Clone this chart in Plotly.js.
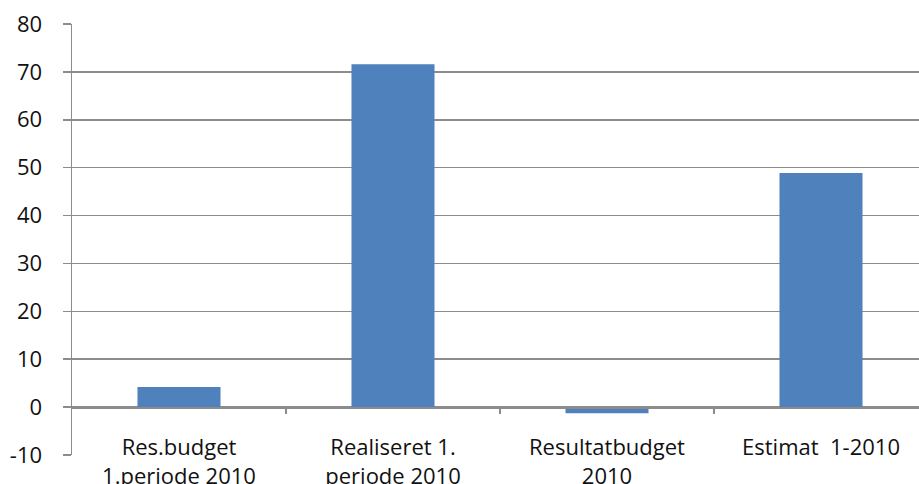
<!DOCTYPE html>
<html>
<head>
<meta charset="utf-8">
<script src="https://cdn.plot.ly/plotly-3.0.1.min.js"></script>
<style>
html,body{margin:0;padding:0;overflow:hidden;background:#fff;width:919px;height:484px;}
#chart{width:928px;height:484px;}
</style>
</head>
<body>
<div id="chart"></div>
<script>
const categories = ["Res.budget\n1.periode 2010", "Realiseret 1.\nperiode 2010", "Resultatbudget\n2010", "Estimat\u00a0 1-2010"];
const values = [4.2, 71.6, -1.3, 48.9];
const yTicks = [-10, 0, 10, 20, 30, 40, 50, 60, 70, 80];

const W = 928, H = 484;
const mL = 72, mR = 0, mT = 23.5, mB = 29;
const zeroPos = (0 - (-10)) / (80 - (-10));
const FONT = '"Open Sans", sans-serif';

const trace = {
  type: 'bar',
  x: categories.map((c, i) => i),
  y: values,
  marker: {color: '#4f81bd', line: {width: 0}},
  hoverinfo: 'none'
};

const layout = {
  width: W, height: H,
  margin: {l: mL, r: mR, t: mT, b: mB, pad: 0},
  paper_bgcolor: '#fff', plot_bgcolor: '#fff',
  showlegend: false,
  bargap: 0.612,
  font: {family: FONT, size: 22, color: '#111'},
  xaxis: {
    type: 'linear',
    range: [-0.5, categories.length - 0.5],
    tickvals: categories.map((c, i) => i),
    ticktext: categories.map(c => c.replace('\n', '<br>')),
    anchor: 'free',
    position: zeroPos,
    showline: true, linecolor: '#8c8c8c', linewidth: 1.5,
    showgrid: false, zeroline: false,
    ticks: '',
    ticklabelstandoff: 20,
    tickfont: {family: FONT, size: 22, color: '#111'},
    fixedrange: true
  },
  xaxis2: {
    overlaying: 'x',
    range: [-0.5, categories.length - 0.5],
    tickvals: [0.5, 1.5, 2.5],
    ticktext: ['', '', ''],
    anchor: 'free', position: zeroPos,
    showline: false, showgrid: false, zeroline: false,
    ticks: 'outside', ticklen: 6, tickwidth: 1.5, tickcolor: '#8c8c8c'
  },
  yaxis: {
    range: [-10, 80],
    tickvals: yTicks,
    ticktext: yTicks.map(String),
    showline: true, linecolor: '#8c8c8c', linewidth: 1.5,
    showgrid: true, gridcolor: '#8c8c8c', gridwidth: 1.5,
    zeroline: false,
    ticks: 'outside', ticklen: 8, tickwidth: 1.5, tickcolor: '#8c8c8c',
    ticklabelstandoff: 16,
    tickfont: {family: FONT, size: 22, color: '#111'},
    fixedrange: true
  }
};

const tickTrace = {type: 'scatter', x: [0], y: [0], xaxis: 'x2', mode: 'markers', marker: {opacity: 0}, hoverinfo: 'none'};

Plotly.newPlot('chart', [trace, tickTrace], layout, {staticPlot: true, displayModeBar: false});
</script>
</body>
</html>
